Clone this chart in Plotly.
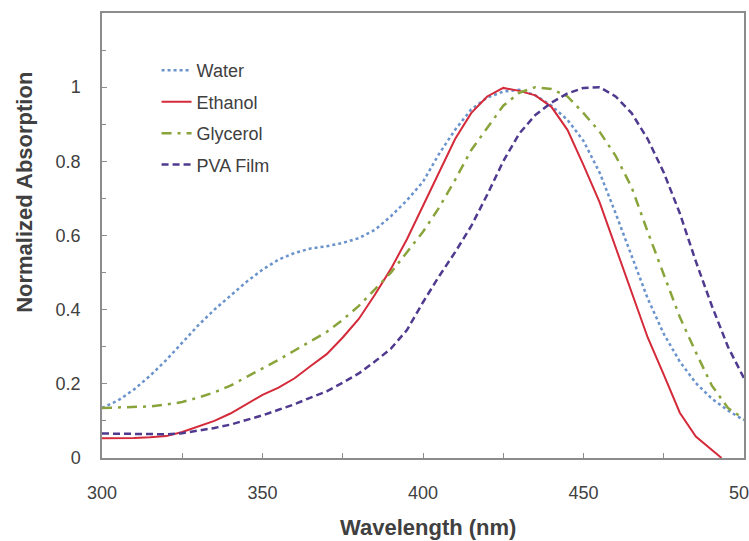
import plotly.graph_objects as go

wavelength = [300, 305, 310, 315, 320, 325, 330, 335, 340, 345, 350, 355, 360, 365, 370, 375, 380, 385, 390, 395,
              400, 405, 410, 415, 420, 425, 430, 435, 440, 445, 450, 455, 460, 465, 470, 475, 480, 485, 490, 495, 500]

water = [0.135, 0.155, 0.185, 0.222, 0.264, 0.312, 0.358, 0.400, 0.437, 0.475, 0.508, 0.535, 0.553, 0.565, 0.571,
         0.580, 0.593, 0.615, 0.652, 0.695, 0.745, 0.820, 0.885, 0.940, 0.972, 0.988, 0.993, 0.978, 0.950, 0.912,
         0.855, 0.770, 0.660, 0.545, 0.430, 0.335, 0.260, 0.202, 0.160, 0.128, 0.102]

glycerol = [0.135, 0.136, 0.137, 0.139, 0.144, 0.151, 0.163, 0.177, 0.195, 0.218, 0.240, 0.265, 0.290, 0.315, 0.340,
            0.373, 0.410, 0.455, 0.500, 0.555, 0.610, 0.675, 0.750, 0.830, 0.890, 0.950, 0.985, 1.000, 0.995, 0.975,
            0.930, 0.880, 0.815, 0.730, 0.610, 0.495, 0.380, 0.285, 0.195, 0.135, 0.105]

pva = [0.066, 0.065, 0.064, 0.064, 0.064, 0.067, 0.073, 0.081, 0.090, 0.102, 0.115, 0.130, 0.145, 0.163, 0.180,
       0.203, 0.228, 0.260, 0.295, 0.345, 0.420, 0.490, 0.555, 0.625, 0.710, 0.800, 0.875, 0.925, 0.958, 0.983,
       0.998, 1.000, 0.975, 0.930, 0.860, 0.770, 0.660, 0.530, 0.410, 0.300, 0.215]

wavelength_ethanol = [300, 305, 310, 315, 320, 325, 330, 335, 340, 345, 350, 355, 360, 365, 370, 375, 380, 385, 390,
                      395, 400, 405, 410, 415, 420, 425, 430, 435, 440, 445, 450, 455, 460, 465, 470, 475, 480, 485,
                      490, 493]
ethanol = [0.053, 0.053, 0.054, 0.056, 0.059, 0.070, 0.085, 0.100, 0.120, 0.145, 0.170, 0.190, 0.215, 0.248, 0.280,
           0.325, 0.375, 0.440, 0.510, 0.590, 0.680, 0.770, 0.860, 0.930, 0.975, 0.998, 0.990, 0.978, 0.947, 0.885,
           0.790, 0.690, 0.567, 0.445, 0.325, 0.225, 0.122, 0.058, 0.022, 0.0]

x_ticks = [300, 350, 400, 450, 500]
y_ticks = [0, 0.2, 0.4, 0.6, 0.8, 1.0, 1.2]
y_tick_text = ["0", "0.2", "0.4", "0.6", "0.8", "1", ""]

text_col = "#404040"
axis_col = "#8c8c8c"

fig = go.Figure()
fig.add_trace(go.Scatter(x=wavelength, y=water, mode="lines", name="Water", legendgroup="a",
                         line=dict(color="#6a93cc", width=2.5, dash="dot")))
fig.add_trace(go.Scatter(x=wavelength_ethanol, y=ethanol, mode="lines", name="Ethanol", legendgroup="b",
                         line=dict(color="#d42a3a", width=2)))
fig.add_trace(go.Scatter(x=wavelength, y=glycerol, mode="lines", name="Glycerol", legendgroup="c",
                         line=dict(color="#8aa43c", width=2.5, dash="10px,6px,3px,6px")))
fig.add_trace(go.Scatter(x=wavelength, y=pva, mode="lines", name="PVA Film", legendgroup="d",
                         line=dict(color="#4f3a8f", width=2.5, dash="7px,4px")))

fig.update_layout(
    width=749, height=541,
    margin=dict(l=102, r=5, t=13, b=83, autoexpand=False),
    paper_bgcolor="white", plot_bgcolor="white",
    font=dict(family="Liberation Sans, Arial, sans-serif", color=text_col, size=18),
    showlegend=True,
    legend=dict(x=0.085, y=0.912, xanchor="left", yanchor="top", bgcolor="rgba(0,0,0,0)",
                font=dict(size=18, color=text_col), tracegroupgap=5, itemwidth=30),
    xaxis=dict(range=[300, 500], tickmode="array", tickvals=x_ticks, ticks="inside", ticklen=5,
               tickcolor=axis_col, showline=True, linecolor=axis_col, linewidth=1.5, mirror=True,
               showgrid=False, zeroline=False, ticklabelstandoff=18, ticklabeloverflow="allow",
               minor=dict(ticks="inside", dtick=25, tick0=300, ticklen=5, tickcolor=axis_col)),
    yaxis=dict(range=[0, 1.2], tickmode="array", tickvals=y_ticks, ticktext=y_tick_text, ticks="inside",
               ticklen=5, tickcolor=axis_col, showline=True, linecolor=axis_col, linewidth=1.5, mirror=True,
               showgrid=False, zeroline=False, ticklabelstandoff=16,
               minor=dict(ticks="inside", dtick=0.1, tick0=0, ticklen=4, tickcolor=axis_col)),
    annotations=[
        dict(text="<b>Wavelength (nm)</b>", xref="paper", yref="paper", x=0.508, y=-0.157,
             xanchor="center", yanchor="middle", showarrow=False, font=dict(size=22, color=text_col)),
        dict(text="<b>Normalized Absorption</b>", xref="paper", yref="paper", x=-0.12, y=0.598,
             xanchor="center", yanchor="middle", textangle=-90, showarrow=False,
             font=dict(size=22, color=text_col)),
    ],
)

fig.write_html("out.html", config={"displayModeBar": False},
               post_script="document.body.style.margin='0';document.body.style.overflow='hidden';")
